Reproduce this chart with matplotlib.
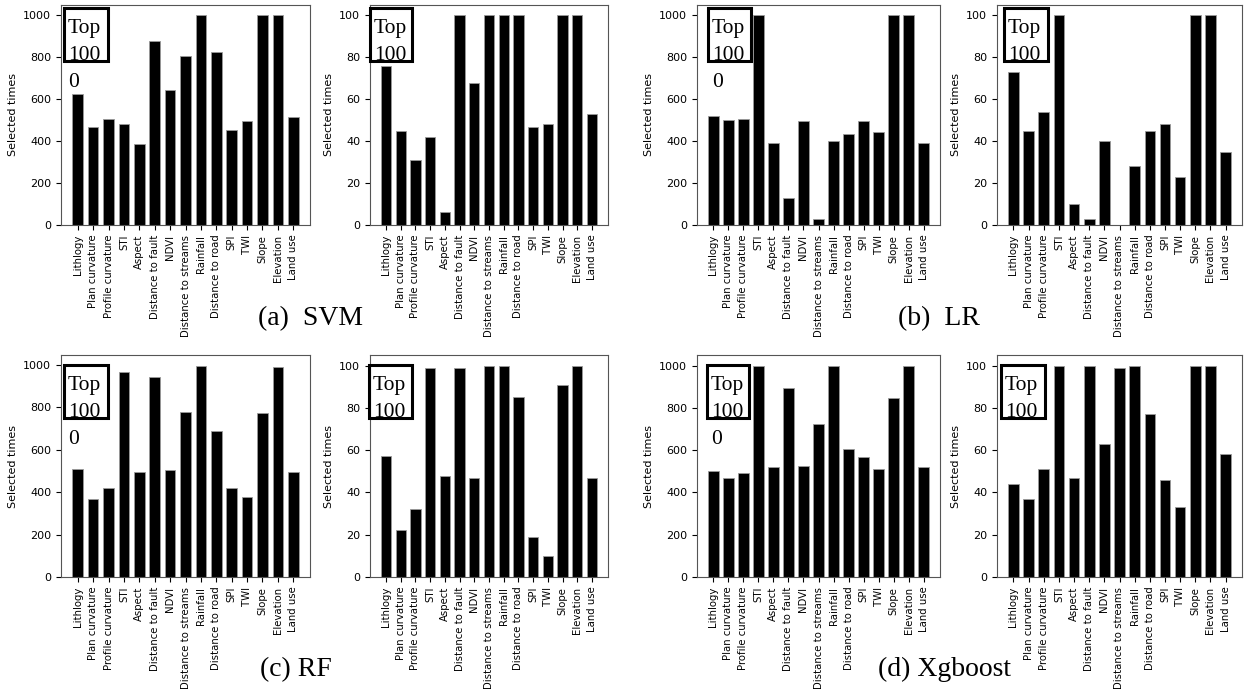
import matplotlib
matplotlib.use("Agg")
import matplotlib.pyplot as plt
from matplotlib.patches import Rectangle

factors = ["Lithlogy", "Plan curvature", "Profile curvature", "STI", "Aspect",
           "Distance to fault", "NDVI", "Distance to streams", "Rainfall",
           "Distance to road", "SPI", "TWI", "Slope", "Elevation", "Land use"]

# selection counts over 1000 runs (top-1000) and top-100 runs
svm_1000 = [623, 467, 505, 481, 386, 878, 642, 805, 1000, 826, 454, 498, 1000, 1000, 517]
svm_100 = [76, 45, 31, 42, 6, 100, 68, 100, 100, 100, 47, 48, 100, 100, 53]
lr_1000 = [520, 500, 506, 1000, 393, 128, 495, 28, 400, 436, 497, 444, 1000, 1000, 390]
lr_100 = [73, 45, 54, 100, 10, 3, 40, 0, 28, 45, 48, 23, 100, 100, 35]
rf_1000 = [510, 368, 420, 963, 492, 942, 502, 778, 995, 686, 420, 378, 772, 988, 495]
rf_100 = [57, 22, 32, 99, 48, 99, 47, 100, 100, 85, 19, 10, 91, 100, 47]
xgb_1000 = [500, 467, 490, 1000, 520, 895, 523, 723, 1000, 607, 567, 510, 847, 1000, 520]
xgb_100 = [44, 37, 51, 100, 47, 100, 63, 99, 100, 77, 46, 33, 100, 100, 58]

series = [svm_1000, svm_100, lr_1000, lr_100, rf_1000, rf_100, xgb_1000, xgb_100]
top_labels = ["Top\n100\n0", "Top\n100"] * 4
panel_names = ["(a)  SVM", "(b)  LR", "(c) RF", "(d) Xgboost"]

W, H = 1247, 695
fig = plt.figure(figsize=(W / 100, H / 100), dpi=100)

# axes boxes in pixels: left, top, right, bottom
ax_px = [(61, 5, 310, 225), (370, 5, 608, 225), (697, 5, 940, 225), (997, 5, 1242, 225),
         (61, 355, 310, 577), (370, 355, 608, 577), (697, 355, 940, 577), (997, 355, 1242, 577)]
# framed "Top ..." boxes in pixels: left, top, right, bottom
box_px = [(64, 8, 108, 61), (370, 8, 412, 61), (708, 8, 751, 61), (1004, 8, 1048, 61),
          (64, 365, 108, 418), (369, 365, 412, 418), (707, 365, 749, 418), (1001, 365, 1045, 418)]

serif = "Liberation Serif"

for vals, lab, (l, t, r, b), (bl, bt, br, bb) in zip(series, top_labels, ax_px, box_px):
    ax = fig.add_axes([l / W, 1 - b / H, (r - l) / W, (b - t) / H])
    ax.bar(range(len(factors)), vals, width=0.7, color="black",
           edgecolor="#9a9a9a", linewidth=0.6)
    ax.set_xticks(range(len(factors)))
    ax.set_xticklabels(factors, rotation=90, fontsize=7.3)
    ax.tick_params(axis="y", labelsize=8)
    ax.set_ylabel("Selected times", fontsize=8)
    for s in ax.spines.values():
        s.set_color("#555555")

    fig.text((bl + 4) / W, 1 - (bt + 11) / H, lab, family=serif, fontsize=15.5,
             ha="left", va="top", linespacing=1.56)
    fig.add_artist(Rectangle((bl / W, 1 - bb / H), (br - bl) / W, (bb - bt) / H,
                             transform=fig.transFigure, fill=False,
                             edgecolor="black", linewidth=2.2, zorder=5))

label_pos = [(258, 325), (898, 325), (260, 676), (878, 676)]
for name, (x, y) in zip(panel_names, label_pos):
    fig.text(x / W, 1 - y / H, name, family=serif, fontsize=20,
             ha="left", va="baseline")

fig.savefig("out.png", dpi=100)
